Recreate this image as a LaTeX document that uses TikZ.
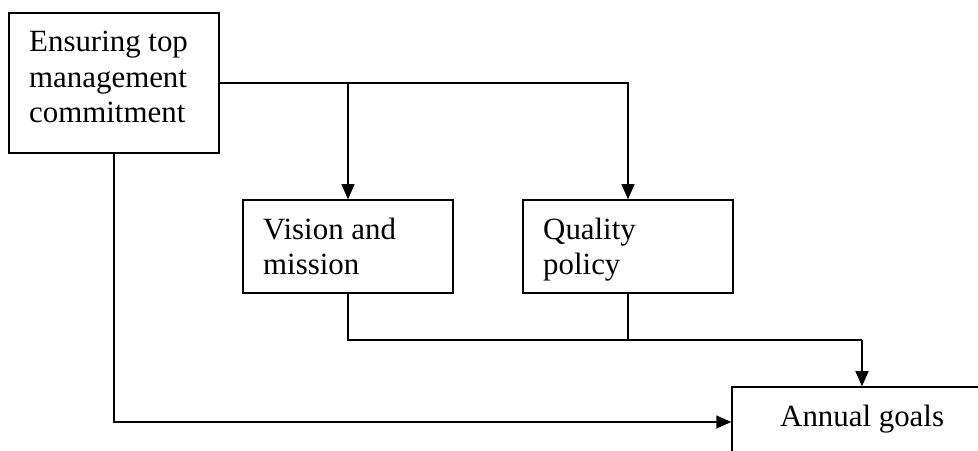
\documentclass[tikz,border=0pt]{standalone}
\usepackage{fontspec}
\setmainfont{Liberation Serif}
\usetikzlibrary{arrows.meta}
\begin{document}
\begin{tikzpicture}[x=1bp,y=-1bp,
  box/.style={draw, line width=1.5bp, rectangle, inner sep=0bp},
  txt/.style={inner sep=0bp, anchor=base west, align=left,
    font=\fontsize{31}{36}\selectfont},
  link/.style={line width=1.5bp},
  arrow/.style={link, -{Triangle[length=15bp,width=13bp]}}]
  \useasboundingbox (0,0) rectangle (978,451);
  \clip (0,0) rectangle (978,451);

  % boxes
  \node[box, minimum width=210bp, minimum height=140bp] (commit) at (114,83) {};
  \node[box, minimum width=210bp, minimum height=93bp] (vision) at (348,246.5) {};
  \node[box, minimum width=210bp, minimum height=93bp] (quality) at (628,246.5) {};
  \node[box, minimum width=260bp, minimum height=70bp] (goals) at (862,422) {};

  % labels (anchored at the baseline of their last line)
  \node[txt] (committext) at (29,123) {Ensuring top\\management\\commitment};
  \node[txt] (visiontext) at (263,275) {Vision and\\mission};
  \node[txt] (qualitytext) at (543,275) {Quality\\policy};
  \node[txt] (goalstext) at (780,426) {Annual goals};

  % connectors
  \coordinate (bus) at (0,340);
  \draw[arrow] (commit.east) -| (quality.north);
  \draw[arrow] (vision.north |- commit.east) -- (vision.north);
  \draw[arrow] (commit.south) |- (goals.west);
  \draw[link] (vision.south) -- (vision.south |- bus) -- (goals.north |- bus);
  \draw[arrow] (goals.north |- bus) -- (goals.north);
  \draw[link] (quality.south) -- (quality.south |- bus);
\end{tikzpicture}
\end{document}
